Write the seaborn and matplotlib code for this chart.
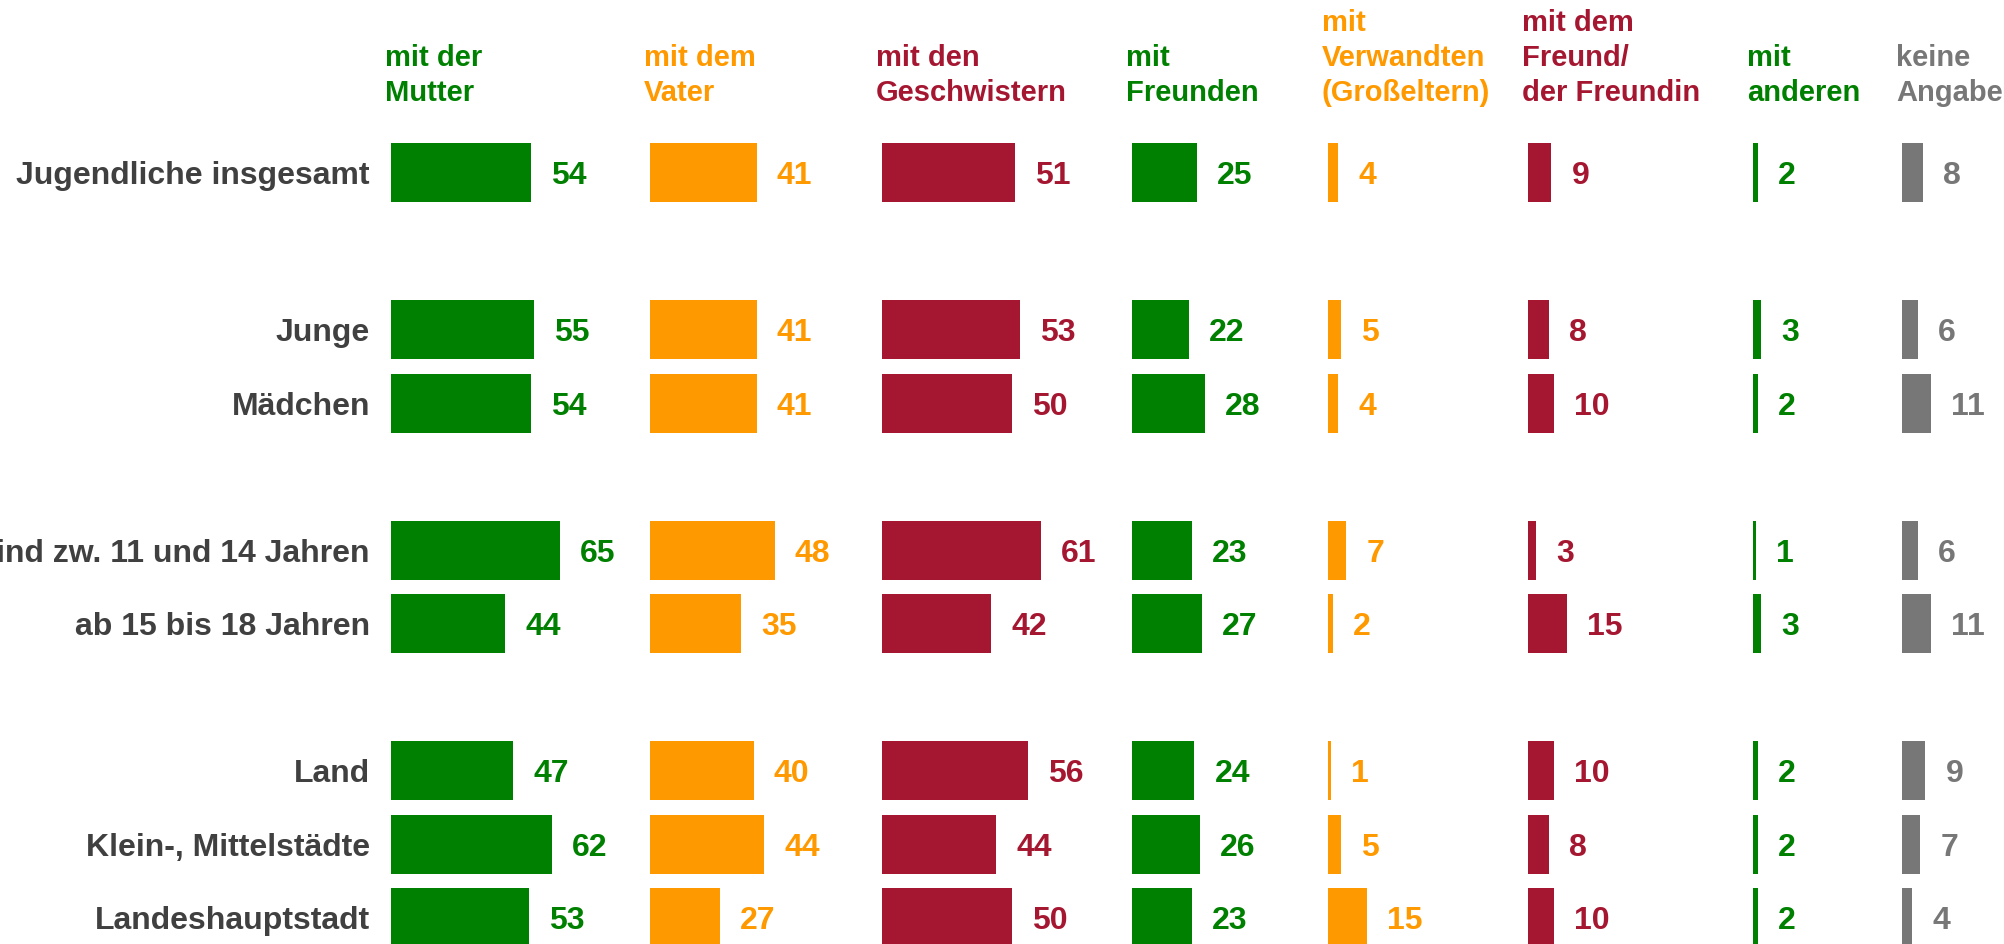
import matplotlib
matplotlib.use("Agg")
import matplotlib.pyplot as plt
import seaborn as sns

# --- data ---
rows = ["Jugendliche insgesamt", "Junge", "Mädchen",
        "Kind zw. 11 und 14 Jahren", "ab 15 bis 18 Jahren",
        "Land", "Klein-, Mittelstädte", "Landeshauptstadt"]
groups = [1, 2, 2, 3]

headers = ["mit der\nMutter", "mit dem\nVater", "mit den\nGeschwistern",
           "mit\nFreunden", "mit\nVerwandten\n(Großeltern)",
           "mit dem\nFreund/\nder Freundin", "mit\nanderen", "keine\nAngabe"]

mutter = [54, 55, 54, 65, 44, 47, 62, 53]
vater = [41, 41, 41, 48, 35, 40, 44, 27]
geschwister = [51, 53, 50, 61, 42, 56, 44, 50]
freunde = [25, 22, 28, 23, 27, 24, 26, 23]
verwandte = [4, 5, 4, 7, 2, 1, 5, 15]
freund_in = [9, 8, 10, 3, 15, 10, 8, 10]
andere = [2, 3, 2, 1, 3, 2, 2, 2]
keine = [8, 6, 11, 6, 11, 9, 7, 4]
series = [mutter, vater, geschwister, freunde, verwandte, freund_in, andere, keine]

GREEN, ORANGE, RED, GREY = "#008000", "#FF9900", "#A51731", "#777777"
colors = [GREEN, ORANGE, RED, GREEN, ORANGE, RED, GREEN, GREY]

# --- layout (pixels) ---
W, H = 2004, 944
col_x = [391, 650, 882, 1132, 1328, 1528, 1753, 1902]
PX_PER_UNIT = 2.6
GAP = 20
ROW_STEP = 73.5
group_extra = [157.2, 147, 147]

row_y = []
y = 172.5
for g, n in enumerate(groups):
    for _ in range(n):
        row_y.append(y)
        y += ROW_STEP
    if g < len(group_extra):
        y += group_extra[g] - ROW_STEP

sns.set_style("white")
plt.rcParams["font.family"] = ["Liberation Sans", "DejaVu Sans"]
plt.rcParams["font.weight"] = "bold"

fig = plt.figure(figsize=(W / 100, H / 100), dpi=100)

bg = fig.add_axes([0, 0, 1, 1])
bg.set_xlim(0, W)
bg.set_ylim(H, 0)
bg.axis("off")

# row labels (the first long one is cut at the left edge, as in the original)
for label, yy in zip(rows, row_y):
    bg.text(370, yy, label, ha="right", va="center_baseline",
            color="#404040", fontsize=23, fontweight="bold")

# one small axes per column
for i, (vals, c, head) in enumerate(zip(series, colors, headers)):
    x0 = col_x[i]
    x1 = col_x[i + 1] if i + 1 < len(col_x) else W
    ax = fig.add_axes([x0 / W, 0, (x1 - x0) / W, 1])
    sns.barplot(x=vals, y=row_y, orient="h", native_scale=True, color=c,
                saturation=1, width=0.8, errorbar=None, linewidth=0, ax=ax)
    ax.set_xlim(0, (x1 - x0) / PX_PER_UNIT)
    ax.set_ylim(H, 0)
    ax.axis("off")
    for v, yy in zip(vals, row_y):
        ax.text(v + GAP / PX_PER_UNIT, yy, str(v), ha="left",
                va="center_baseline", color=c, fontsize=23, fontweight="bold")
    bg.text(x0 - 6, 107, head, ha="left", va="bottom", color=c,
            fontsize=21, fontweight="bold", linespacing=1.32)

fig.savefig("out.png", dpi=100)
